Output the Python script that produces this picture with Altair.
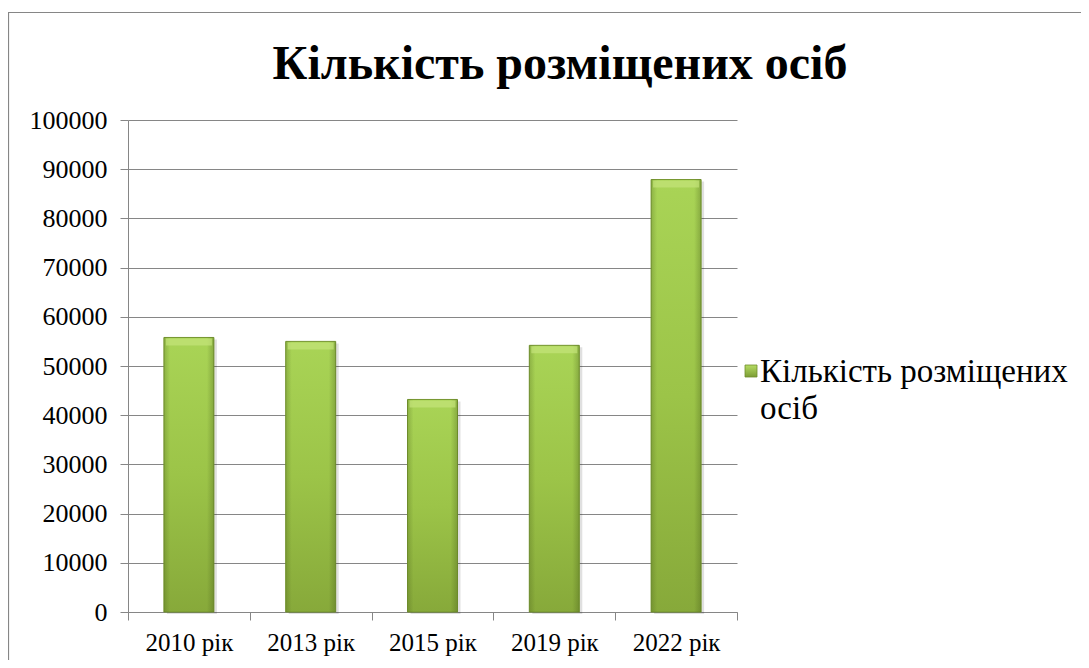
import altair as alt
import pandas as pd

YEARS = ["2010 рік", "2013 рік", "2015 рік", "2019 рік", "2022 рік"]
VALUES = [55800, 55000, 43200, 54200, 87900]
Y_TICKS = list(range(0, 100001, 10000))
TITLE = "Кількість розміщених осіб"
LEGEND_LINES = ["Кількість розміщених", "осіб"]

df = pd.DataFrame({"year": YEARS, "value": VALUES})
one = pd.DataFrame({"t": [TITLE]})

FONT = "Liberation Serif"
GRID = "#868686"

x_enc = alt.X(
    "year:N", sort=YEARS, title=None,
    scale=alt.Scale(paddingInner=0, paddingOuter=0),
    axis=alt.Axis(labelAngle=0, tickBand="extent", tickSize=8, tickColor=GRID,
                  domainColor=GRID, labelFont=FONT, labelFontSize=25,
                  labelColor="black", labelPadding=10, grid=False),
)
y_enc = alt.Y(
    "value:Q", title=None,
    scale=alt.Scale(domain=[0, 100000], nice=False),
    axis=alt.Axis(values=Y_TICKS, format="d", tickSize=8, tickColor=GRID,
                  domainColor=GRID, gridColor=GRID, grid=True,
                  labelFont=FONT, labelFontSize=26, labelColor="black",
                  labelPadding=13),
)

base = alt.Chart(df)

shadow = base.mark_bar(size=50, color="black", opacity=0.12, xOffset=3, yOffset=2).encode(
    x=x_enc, y=y_enc)

bars = base.mark_bar(
    size=50, stroke="#75952f", strokeWidth=1,
    color=alt.LinearGradient(
        gradient="linear", x1=0, x2=0, y1=0, y2=1,
        stops=[alt.GradientStop(color="#a9d456", offset=0),
               alt.GradientStop(color="#9cc448", offset=0.5),
               alt.GradientStop(color="#87a93a", offset=1)]),
).encode(x=x_enc, y=y_enc)

edges = base.mark_bar(
    size=50,
    color=alt.LinearGradient(
        gradient="linear", x1=0, x2=1, y1=0, y2=0,
        stops=[alt.GradientStop(color="rgba(60,80,20,0.25)", offset=0),
               alt.GradientStop(color="rgba(60,80,20,0)", offset=0.12),
               alt.GradientStop(color="rgba(60,80,20,0)", offset=0.86),
               alt.GradientStop(color="rgba(60,80,20,0.3)", offset=1)]),
).encode(x=x_enc, y=y_enc)

bevel = base.mark_tick(size=46, thickness=7, color="#c4e47a", yOffset=4.5).encode(
    x=x_enc, y=y_enc)

title = alt.Chart(one).mark_text(
    font=FONT, fontSize=48, fontWeight="bold", color="black",
    align="center", baseline="alphabetic",
).encode(x=alt.value(432), y=alt.value(-41), text="t:N")

legend_box = alt.Chart(one).mark_rect(
    color=alt.LinearGradient(
        gradient="linear", x1=0, x2=0, y1=0, y2=1,
        stops=[alt.GradientStop(color="#b5dc63", offset=0),
               alt.GradientStop(color="#7c9c34", offset=1)]),
    stroke="#6f8d2c", strokeWidth=0.8,
).encode(x=alt.value(617), x2=alt.value(629), y=alt.value(245), y2=alt.value(257))

legend_text = alt.Chart(one).mark_text(
    font=FONT, fontSize=33, color="black", align="left", baseline="alphabetic",
    lineHeight=37,
).encode(x=alt.value(632), y=alt.value(262), text=alt.value(LEGEND_LINES))

border = alt.Chart(one).mark_rect(
    fill=None, stroke=GRID, strokeWidth=1.2,
).encode(x=alt.value(-119.5), x2=alt.value(1200), y=alt.value(-107.5), y2=alt.value(800))

chart = alt.layer(border, shadow, bars, edges, bevel, title, legend_box, legend_text).properties(
    width=609, height=492,
    autosize=alt.AutoSizeParams(type="none"),
    padding={"left": 120, "top": 112, "right": 344, "bottom": 48},
).configure_view(stroke=None)

chart.save("out.html", embed_options={"renderer": "svg", "actions": False})
